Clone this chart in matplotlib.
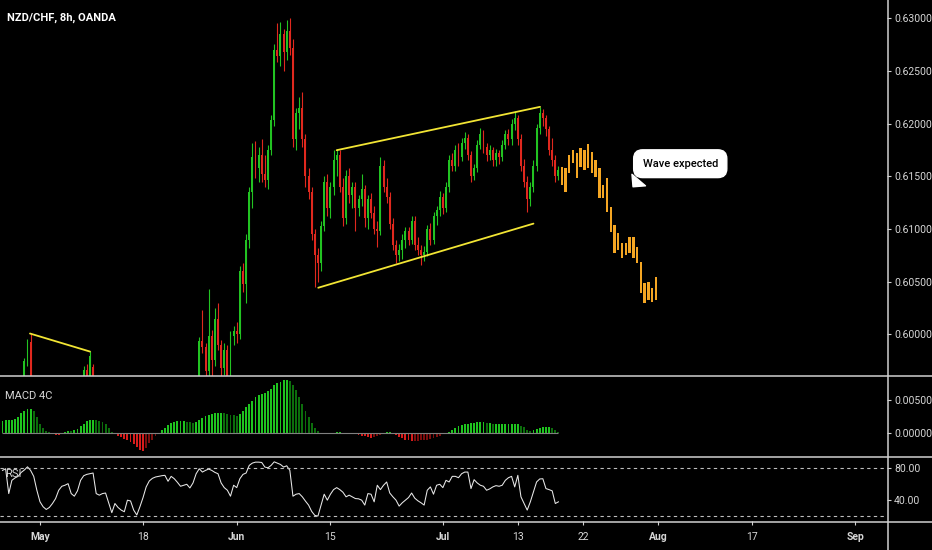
import matplotlib
matplotlib.use("Agg")
import matplotlib.pyplot as plt
from matplotlib.lines import Line2D
import numpy as np

plt.rcParams["font.family"] = ["Roboto", "DejaVu Sans"]

# ---- NZD/CHF 8h candles (bar index 0 = 27 Apr 2020, 3 bars per trading day) ----
opens = [
    0.5900, 0.5908, 0.5915, 0.5905, 0.5920, 0.5928, 0.5935, 0.5948, 0.5975, 0.5993,
    0.5950, 0.5935, 0.5920, 0.5905, 0.5900, 0.5906, 0.5910, 0.5902, 0.5915, 0.5926,
    0.5930, 0.5933, 0.5938, 0.5920, 0.5925, 0.5938, 0.5950, 0.5966, 0.5955, 0.5969,
    0.5952, 0.5940, 0.5945, 0.5932, 0.5936, 0.5910, 0.5885, 0.5895, 0.5880, 0.5865,
    0.5855, 0.5870, 0.5860, 0.5842, 0.5830, 0.5845, 0.5866, 0.5888, 0.5900, 0.5908,
    0.5913, 0.5918, 0.5922, 0.5926, 0.5910, 0.5924, 0.5915, 0.5905, 0.5900, 0.5906,
    0.5898, 0.5895, 0.5910, 0.5930, 0.5994, 0.5988, 0.5965, 0.5999, 0.5976, 0.6015,
    0.5990, 0.5968, 0.5985, 0.5958, 0.5999, 0.6003, 0.6000, 0.6060, 0.6048, 0.6090,
    0.6135, 0.6168, 0.6158, 0.6170, 0.6152, 0.6146, 0.6175, 0.6203, 0.6270, 0.6264,
    0.6285, 0.6268, 0.6288, 0.6272, 0.6185, 0.6210, 0.6215, 0.6185, 0.6150, 0.6135,
    0.6095, 0.6075, 0.6068, 0.6103, 0.6145, 0.6120, 0.6140, 0.6165, 0.6170, 0.6140,
    0.6110, 0.6150, 0.6132, 0.6140, 0.6120, 0.6128, 0.6138, 0.6110, 0.6128, 0.6115,
    0.6100, 0.6098, 0.6160, 0.6140, 0.6130, 0.6105, 0.6085, 0.6075, 0.6080, 0.6090,
    0.6098, 0.6090, 0.6108, 0.6085, 0.6080, 0.6075, 0.6078, 0.6100, 0.6090, 0.6112,
    0.6118, 0.6130, 0.6120, 0.6140, 0.6165, 0.6160, 0.6175, 0.6168, 0.6182, 0.6186,
    0.6170, 0.6150, 0.6158, 0.6180, 0.6190, 0.6178, 0.6170, 0.6175, 0.6165, 0.6172,
    0.6168, 0.6180, 0.6190, 0.6185, 0.6200, 0.6205, 0.6185, 0.6160, 0.6145, 0.6128,
    0.6140, 0.6160, 0.6196, 0.6210, 0.6205, 0.6195, 0.6175, 0.6165, 0.6150,
]
highs = [
    0.5912, 0.5920, 0.5918, 0.5925, 0.5932, 0.5940, 0.5952, 0.5978, 0.5996, 0.6000,
    0.5955, 0.5940, 0.5925, 0.5912, 0.5910, 0.5915, 0.5913, 0.5918, 0.5930, 0.5935,
    0.5938, 0.5942, 0.5940, 0.5930, 0.5942, 0.5955, 0.5970, 0.5972, 0.5984, 0.5972,
    0.5958, 0.5948, 0.5950, 0.5940, 0.5938, 0.5915, 0.5900, 0.5898, 0.5885, 0.5870,
    0.5875, 0.5874, 0.5862, 0.5846, 0.5848, 0.5870, 0.5892, 0.5905, 0.5912, 0.5918,
    0.5922, 0.5926, 0.5930, 0.5928, 0.5928, 0.5928, 0.5920, 0.5912, 0.5910, 0.5910,
    0.5905, 0.5915, 0.5935, 0.5998, 0.6023, 0.5992, 0.6043, 0.6004, 0.6025, 0.6030,
    0.5995, 0.5992, 0.5990, 0.6003, 0.6008, 0.6012, 0.6065, 0.6068, 0.6095, 0.6140,
    0.6182, 0.6183, 0.6178, 0.6185, 0.6170, 0.6180, 0.6208, 0.6275, 0.6295, 0.6296,
    0.6290, 0.6298, 0.6300, 0.6280, 0.6215, 0.6225, 0.6230, 0.6190, 0.6158, 0.6140,
    0.6100, 0.6082, 0.6108, 0.6150, 0.6152, 0.6145, 0.6175, 0.6176, 0.6175, 0.6148,
    0.6156, 0.6158, 0.6145, 0.6145, 0.6132, 0.6152, 0.6142, 0.6132, 0.6134, 0.6122,
    0.6108, 0.6168, 0.6165, 0.6148, 0.6135, 0.6110, 0.6090, 0.6086, 0.6095, 0.6102,
    0.6102, 0.6112, 0.6112, 0.6092, 0.6085, 0.6084, 0.6104, 0.6106, 0.6116, 0.6122,
    0.6136, 0.6134, 0.6145, 0.6170, 0.6172, 0.6180, 0.6182, 0.6186, 0.6192, 0.6190,
    0.6174, 0.6162, 0.6184, 0.6196, 0.6194, 0.6182, 0.6180, 0.6178, 0.6176, 0.6175,
    0.6184, 0.6194, 0.6195, 0.6204, 0.6212, 0.6208, 0.6190, 0.6166, 0.6150, 0.6145,
    0.6165, 0.6200, 0.6216, 0.6214, 0.6208, 0.6198, 0.6186, 0.6170, 0.6160,
]
lows = [
    0.5895, 0.5902, 0.5900, 0.5903, 0.5915, 0.5922, 0.5930, 0.5945, 0.5970, 0.5945,
    0.5930, 0.5915, 0.5900, 0.5895, 0.5892, 0.5900, 0.5898, 0.5900, 0.5910, 0.5920,
    0.5922, 0.5928, 0.5915, 0.5912, 0.5920, 0.5932, 0.5945, 0.5950, 0.5952, 0.5948,
    0.5935, 0.5930, 0.5928, 0.5920, 0.5905, 0.5880, 0.5878, 0.5875, 0.5860, 0.5850,
    0.5850, 0.5852, 0.5838, 0.5825, 0.5826, 0.5840, 0.5862, 0.5882, 0.5895, 0.5902,
    0.5905, 0.5910, 0.5915, 0.5905, 0.5906, 0.5910, 0.5900, 0.5895, 0.5896, 0.5892,
    0.5888, 0.5890, 0.5905, 0.5925, 0.5982, 0.5958, 0.5960, 0.5960, 0.5970, 0.5985,
    0.5955, 0.5962, 0.5950, 0.5952, 0.5990, 0.5992, 0.5996, 0.6040, 0.6030, 0.6082,
    0.6120, 0.6148, 0.6145, 0.6145, 0.6140, 0.6138, 0.6170, 0.6198, 0.6258, 0.6255,
    0.6250, 0.6260, 0.6265, 0.6178, 0.6175, 0.6195, 0.6178, 0.6140, 0.6128, 0.6090,
    0.6045, 0.6050, 0.6060, 0.6098, 0.6112, 0.6110, 0.6132, 0.6150, 0.6135, 0.6103,
    0.6105, 0.6125, 0.6120, 0.6098, 0.6112, 0.6122, 0.6102, 0.6100, 0.6110, 0.6095,
    0.6083, 0.6094, 0.6135, 0.6125, 0.6100, 0.6080, 0.6068, 0.6070, 0.6072, 0.6082,
    0.6085, 0.6086, 0.6080, 0.6075, 0.6066, 0.6070, 0.6074, 0.6085, 0.6086, 0.6104,
    0.6112, 0.6114, 0.6116, 0.6135, 0.6155, 0.6155, 0.6160, 0.6164, 0.6176, 0.6165,
    0.6145, 0.6146, 0.6154, 0.6176, 0.6172, 0.6164, 0.6165, 0.6160, 0.6160, 0.6162,
    0.6164, 0.6176, 0.6180, 0.6180, 0.6194, 0.6180, 0.6155, 0.6140, 0.6116, 0.6122,
    0.6135, 0.6155, 0.6190, 0.6198, 0.6188, 0.6170, 0.6160, 0.6145, 0.6146,
]
closes = [
    0.5908, 0.5915, 0.5905, 0.5920, 0.5928, 0.5935, 0.5948, 0.5975, 0.5993, 0.5950,
    0.5935, 0.5920, 0.5905, 0.5900, 0.5906, 0.5910, 0.5902, 0.5915, 0.5926, 0.5930,
    0.5933, 0.5938, 0.5920, 0.5925, 0.5938, 0.5950, 0.5966, 0.5955, 0.5980, 0.5952,
    0.5940, 0.5945, 0.5932, 0.5936, 0.5910, 0.5885, 0.5895, 0.5880, 0.5865, 0.5855,
    0.5870, 0.5860, 0.5842, 0.5830, 0.5845, 0.5866, 0.5888, 0.5900, 0.5908, 0.5913,
    0.5918, 0.5922, 0.5926, 0.5910, 0.5924, 0.5915, 0.5905, 0.5900, 0.5906, 0.5898,
    0.5895, 0.5910, 0.5930, 0.5994, 0.5988, 0.5965, 0.5999, 0.5976, 0.6015, 0.5990,
    0.5968, 0.5985, 0.5958, 0.5999, 0.6003, 0.6000, 0.6060, 0.6048, 0.6090, 0.6135,
    0.6168, 0.6158, 0.6170, 0.6152, 0.6146, 0.6175, 0.6203, 0.6270, 0.6264, 0.6285,
    0.6268, 0.6288, 0.6272, 0.6185, 0.6210, 0.6215, 0.6185, 0.6150, 0.6135, 0.6095,
    0.6075, 0.6068, 0.6103, 0.6145, 0.6120, 0.6140, 0.6165, 0.6170, 0.6140, 0.6110,
    0.6150, 0.6132, 0.6140, 0.6120, 0.6128, 0.6138, 0.6110, 0.6128, 0.6115, 0.6100,
    0.6098, 0.6160, 0.6140, 0.6130, 0.6105, 0.6085, 0.6075, 0.6080, 0.6090, 0.6098,
    0.6090, 0.6108, 0.6085, 0.6080, 0.6075, 0.6078, 0.6100, 0.6090, 0.6112, 0.6118,
    0.6130, 0.6120, 0.6140, 0.6165, 0.6160, 0.6175, 0.6168, 0.6182, 0.6186, 0.6170,
    0.6150, 0.6158, 0.6180, 0.6190, 0.6178, 0.6170, 0.6175, 0.6165, 0.6172, 0.6168,
    0.6180, 0.6190, 0.6185, 0.6200, 0.6205, 0.6185, 0.6160, 0.6145, 0.6128, 0.6140,
    0.6160, 0.6196, 0.6210, 0.6205, 0.6195, 0.6175, 0.6165, 0.6150, 0.6156,
]

# MACD 4C histogram, one value per candle
macd_hist = [
    0.00177, 0.0019, 0.0019, 0.0020, 0.0021, 0.0024, 0.0030, 0.0034, 0.0036, 0.0037,
    0.0033, 0.0024, 0.0014, 0.0007, 0.0003, 0.0001, -0.0001, -0.0003, -0.00035, -0.0001,
    0.0001, 0.0003, 0.00025, 0.0004, 0.0006, 0.0010, 0.0014, 0.0018, 0.0020, 0.0020,
    0.0019, 0.0018, 0.0016, 0.0013, 0.0008, 0.0002, -0.0002, -0.0005, -0.0006, -0.0009,
    -0.0011, -0.0014, -0.0017, -0.0021, -0.0025, -0.0027, -0.0022, -0.0015, -0.0010, -0.0005,
    0.0000, 0.0004, 0.0008, 0.0012, 0.0015, 0.0017, 0.0018, 0.0018, 0.0018, 0.0017,
    0.0016, 0.0015, 0.0017, 0.0019, 0.0023, 0.0026, 0.0028, 0.0029, 0.0030, 0.0031,
    0.0031, 0.0030, 0.0029, 0.0028, 0.0027, 0.0026, 0.0029, 0.0033, 0.0039, 0.0044,
    0.0049, 0.0054, 0.0057, 0.0059, 0.0061, 0.0063, 0.0067, 0.0072, 0.0076, 0.0078,
    0.0080, 0.0081, 0.0079, 0.0072, 0.0065, 0.0055, 0.0044, 0.0034, 0.0024, 0.0015,
    0.0008, 0.00025, 0.00005, -0.0001, -0.00015, -0.0001, 0.00005, 0.0001, 0.0001, 0.00005,
    -0.00005, -0.0001, -0.0001, -0.0002, -0.0003, -0.0004, -0.0005, -0.0006, -0.0007, -0.0006,
    -0.0005, -0.0003, -0.0001, 0.0001, 0.0001, -0.0001, -0.0003, -0.0006, -0.0008, -0.0010,
    -0.0011, -0.0012, -0.0012, -0.0012, -0.0011, -0.0011, -0.0010, -0.0009, -0.0008, -0.0006,
    -0.0004, -0.0002, -0.0001, 0.0001, 0.0004, 0.0008, 0.0010, 0.0012, 0.0013, 0.0014,
    0.0015, 0.0015, 0.0016, 0.0016, 0.0016, 0.0015, 0.0015, 0.0014, 0.0014, 0.0014,
    0.0014, 0.0014, 0.0014, 0.0014, 0.0014, 0.0014, 0.0011, 0.0009, 0.0005, 0.0003,
    0.0004, 0.0006, 0.0008, 0.0009, 0.0009, 0.0009, 0.0008, 0.0005, 0.0002,
]

rsi = [
    77.5, 79.6, 48.3, 65.0, 68.0, 70.0, 75.0, 78.0, 82.0, 77.5,
    70.0, 52.5, 38.0, 31.7, 28.3, 30.8, 35.8, 42.0, 52.5, 57.5,
    58.8, 60.8, 48.3, 45.0, 51.7, 65.0, 70.8, 72.5, 73.3, 74.2,
    48.3, 46.3, 48.3, 49.0, 36.7, 24.2, 35.8, 30.8, 27.5, 25.4,
    40.0, 39.0, 27.5, 21.3, 31.7, 43.3, 56.7, 64.2, 67.5, 69.2,
    70.0, 70.8, 71.3, 63.8, 70.0, 67.0, 62.5, 57.5, 58.8, 60.0,
    55.4, 61.7, 73.3, 79.6, 75.4, 77.5, 79.2, 77.5, 75.0, 73.3,
    61.7, 55.8, 52.5, 45.0, 58.8, 55.8, 67.0, 72.5, 74.2, 83.8,
    86.7, 87.9, 87.9, 87.5, 81.7, 80.8, 83.8, 88.3, 86.7, 85.0,
    81.7, 83.3, 77.5, 45.0, 47.5, 48.3, 44.2, 38.8, 33.8, 25.8,
    20.8, 20.0, 33.8, 47.5, 40.0, 47.5, 53.3, 55.8, 53.3, 50.0,
    44.2, 46.3, 44.2, 42.0, 41.7, 40.0, 33.8, 48.3, 47.5, 37.9,
    58.8, 53.3, 58.8, 62.9, 49.0, 44.2, 40.0, 32.5, 36.7, 40.0,
    43.3, 49.0, 42.5, 39.2, 36.7, 33.8, 52.5, 56.7, 47.5, 58.8,
    60.0, 55.8, 65.0, 62.9, 70.0, 70.0, 68.3, 73.3, 75.4, 75.4,
    54.6, 65.8, 61.7, 58.8, 57.5, 52.5, 54.2, 56.7, 58.3, 57.5,
    58.8, 65.0, 68.3, 70.0, 56.7, 71.3, 44.2, 35.8, 27.5, 37.9,
    50.4, 62.9, 66.7, 67.0, 54.6, 53.3, 51.7, 35.8, 37.9,
]

# projected "wave expected" bars (orange), high / low
proj_high = [
    0.61588, 0.61576, 0.61699, 0.61747, 0.61718, 0.61766, 0.61747, 0.61804, 0.61728, 0.61652,
    0.61576, 0.61414, 0.61481, 0.61206, 0.61035, 0.60959, 0.60864, 0.60864, 0.60921, 0.60921,
    0.60826, 0.60683, 0.60484, 0.60494, 0.60437, 0.60541,
]
proj_low = [
    0.61414, 0.61348, 0.61528, 0.61623, 0.61481, 0.61585, 0.61557, 0.61576, 0.61528, 0.61490,
    0.61291, 0.61291, 0.61158, 0.60968, 0.60769, 0.60797, 0.60721, 0.60750, 0.60769, 0.60721,
    0.60674, 0.60389, 0.60294, 0.60323, 0.60304, 0.60323,
]

# drawn trend lines: (bar index, price) end points
channel_top = [(107.0, 0.61747), (172.1, 0.62158)]
channel_bottom = [(101.1, 0.60443), (170.0, 0.61051)]
wedge_left = [(8.8, 0.60009), (28.0, 0.59838)]

# date axis: bar index of each labelled date
date_ticks = [12, 45, 75, 105, 141, 165, 186, 210, 240, 273]
date_labels = ["May", "18", "Jun", "15", "Jul", "13", "22", "Aug", "17", "Sep"]
month_labels = {"May", "Jun", "Jul", "Aug", "Sep"}

price_ticks = [0.600, 0.605, 0.610, 0.615, 0.620, 0.625, 0.630]
macd_ticks = [0.0, 0.005]
rsi_ticks = [40, 80]

UP, DOWN = "#22c322", "#e0281e"
M_UP, M_UP_DIM = "#1fc41f", "#0c6e0c"
M_DN, M_DN_DIM = "#d81c1c", "#7c0d0d"
ORANGE = "#f5a623"
YELLOW = "#f2e534"
TXT = "#d6d6d6"
RULE = "#d0d0d0"

W, H = 932, 550
SCALE_X = 887  # px where the right price scale starts

fig = plt.figure(figsize=(W / 100, H / 100), dpi=100, facecolor="black")


def panel(top, bottom):
    a = fig.add_axes([0, 1 - bottom / H, SCALE_X / W, (bottom - top) / H])
    a.set_facecolor("black")
    for s in a.spines.values():
        s.set_visible(False)
    a.set_xlim(-0.8, 283.2)
    a.yaxis.tick_right()
    a.tick_params(axis="y", colors=RULE, labelcolor=TXT, labelsize=7.5,
                  length=3, width=0.8, pad=2)
    a.tick_params(axis="x", bottom=False, labelbottom=False)
    return a


ax = panel(0, 375.5)
axm = panel(376.5, 456.5)
axr = panel(457.5, 521)

# --- price candles ---
o, h, l, c = (np.array(v) for v in (opens, highs, lows, closes))
idx = np.arange(len(c))
cols = np.where(c >= o, UP, DOWN)
ax.vlines(idx, l, h, colors=cols, lw=0.8)
body = np.maximum(np.abs(c - o), 0.00006)
ax.bar(idx, body, bottom=np.minimum(o, c), width=0.62, color=cols, lw=0)

# --- projected orange bars ---
ph, pl = np.array(proj_high), np.array(proj_low)
px = 179.05 + 1.207 * np.arange(len(ph))
ax.bar(px, ph - pl, bottom=pl, width=0.75, color=ORANGE, lw=0)

for seg in (channel_top, channel_bottom, wedge_left):
    xs, ys = zip(*seg)
    ax.plot(xs, ys, color=YELLOW, lw=1.3, solid_capstyle="round")

ax.set_ylim(0.59611, 0.63171)
ax.set_yticks(price_ticks)
ax.set_yticklabels([f"{v:.5f}" for v in price_ticks])

ax.annotate("Wave expected", xy=(201.3, 0.61380), xytext=(217.0, 0.61619),
            ha="center", va="center", fontsize=8, color="black", fontweight="medium",
            bbox=dict(boxstyle="round,pad=0.8,rounding_size=0.8", fc="white", ec="white"),
            arrowprops=dict(arrowstyle="wedge,tail_width=1.6,shrink_factor=0.5",
                            fc="white", ec="white", relpos=(0.1, 0.2)))

# --- MACD 4C ---
mh = np.array(macd_hist)
prev = np.concatenate([[mh[0]], mh[:-1]])
mcols = np.where(mh >= 0, np.where(mh >= prev, M_UP, M_UP_DIM),
                 np.where(mh < prev, M_DN, M_DN_DIM))
axm.bar(idx, mh, width=0.6, color=mcols, lw=0)
axm.hlines(0, idx[0], idx[-1], color="#808080", lw=0.8)
axm.set_ylim(-0.00356, 0.00856)
axm.set_yticks(macd_ticks)
axm.set_yticklabels([f"{v:.5f}" for v in macd_ticks])

# --- RSI ---
axr.plot(idx, rsi, color="#e8e8e8", lw=0.75)
for lvl in (80, 20):
    axr.axhline(lvl, color="#bdbdbd", lw=0.8, ls=(0, (3, 3)))
axr.set_ylim(13.75, 93.75)
axr.set_yticks(rsi_ticks)
axr.set_yticklabels([f"{v:.2f}" for v in rsi_ticks])

axr.set_xticks(date_ticks)
axr.set_xticklabels(date_labels)
axr.tick_params(axis="x", bottom=True, labelbottom=True, colors=RULE, labelcolor=TXT,
                labelsize=7.5, length=3, width=0.8, pad=5)
for t in axr.get_xticklabels():
    if t.get_text() in month_labels:
        t.set_fontweight("bold")

# --- frame rules ---
for y in (375.5, 456.5, 521.5):
    fig.add_artist(Line2D([0, 1], [1 - y / H] * 2, transform=fig.transFigure,
                          color=RULE, lw=1.1))
fig.add_artist(Line2D([(SCALE_X + 0.5) / W] * 2, [0, 1], transform=fig.transFigure,
                      color=RULE, lw=1.1))

fig.text(7 / W, 1 - 18 / H, "NZD/CHF, 8h, OANDA", color="white", fontsize=8,
         fontweight="bold", va="center", ha="left")
fig.text(5 / W, 1 - 396 / H, "MACD 4C", color=TXT, fontsize=8, va="center", ha="left")
fig.text(5 / W, 1 - 474 / H, "RSI", color=TXT, fontsize=8, va="center", ha="left")

fig.savefig("out.png", dpi=100, facecolor="black")
